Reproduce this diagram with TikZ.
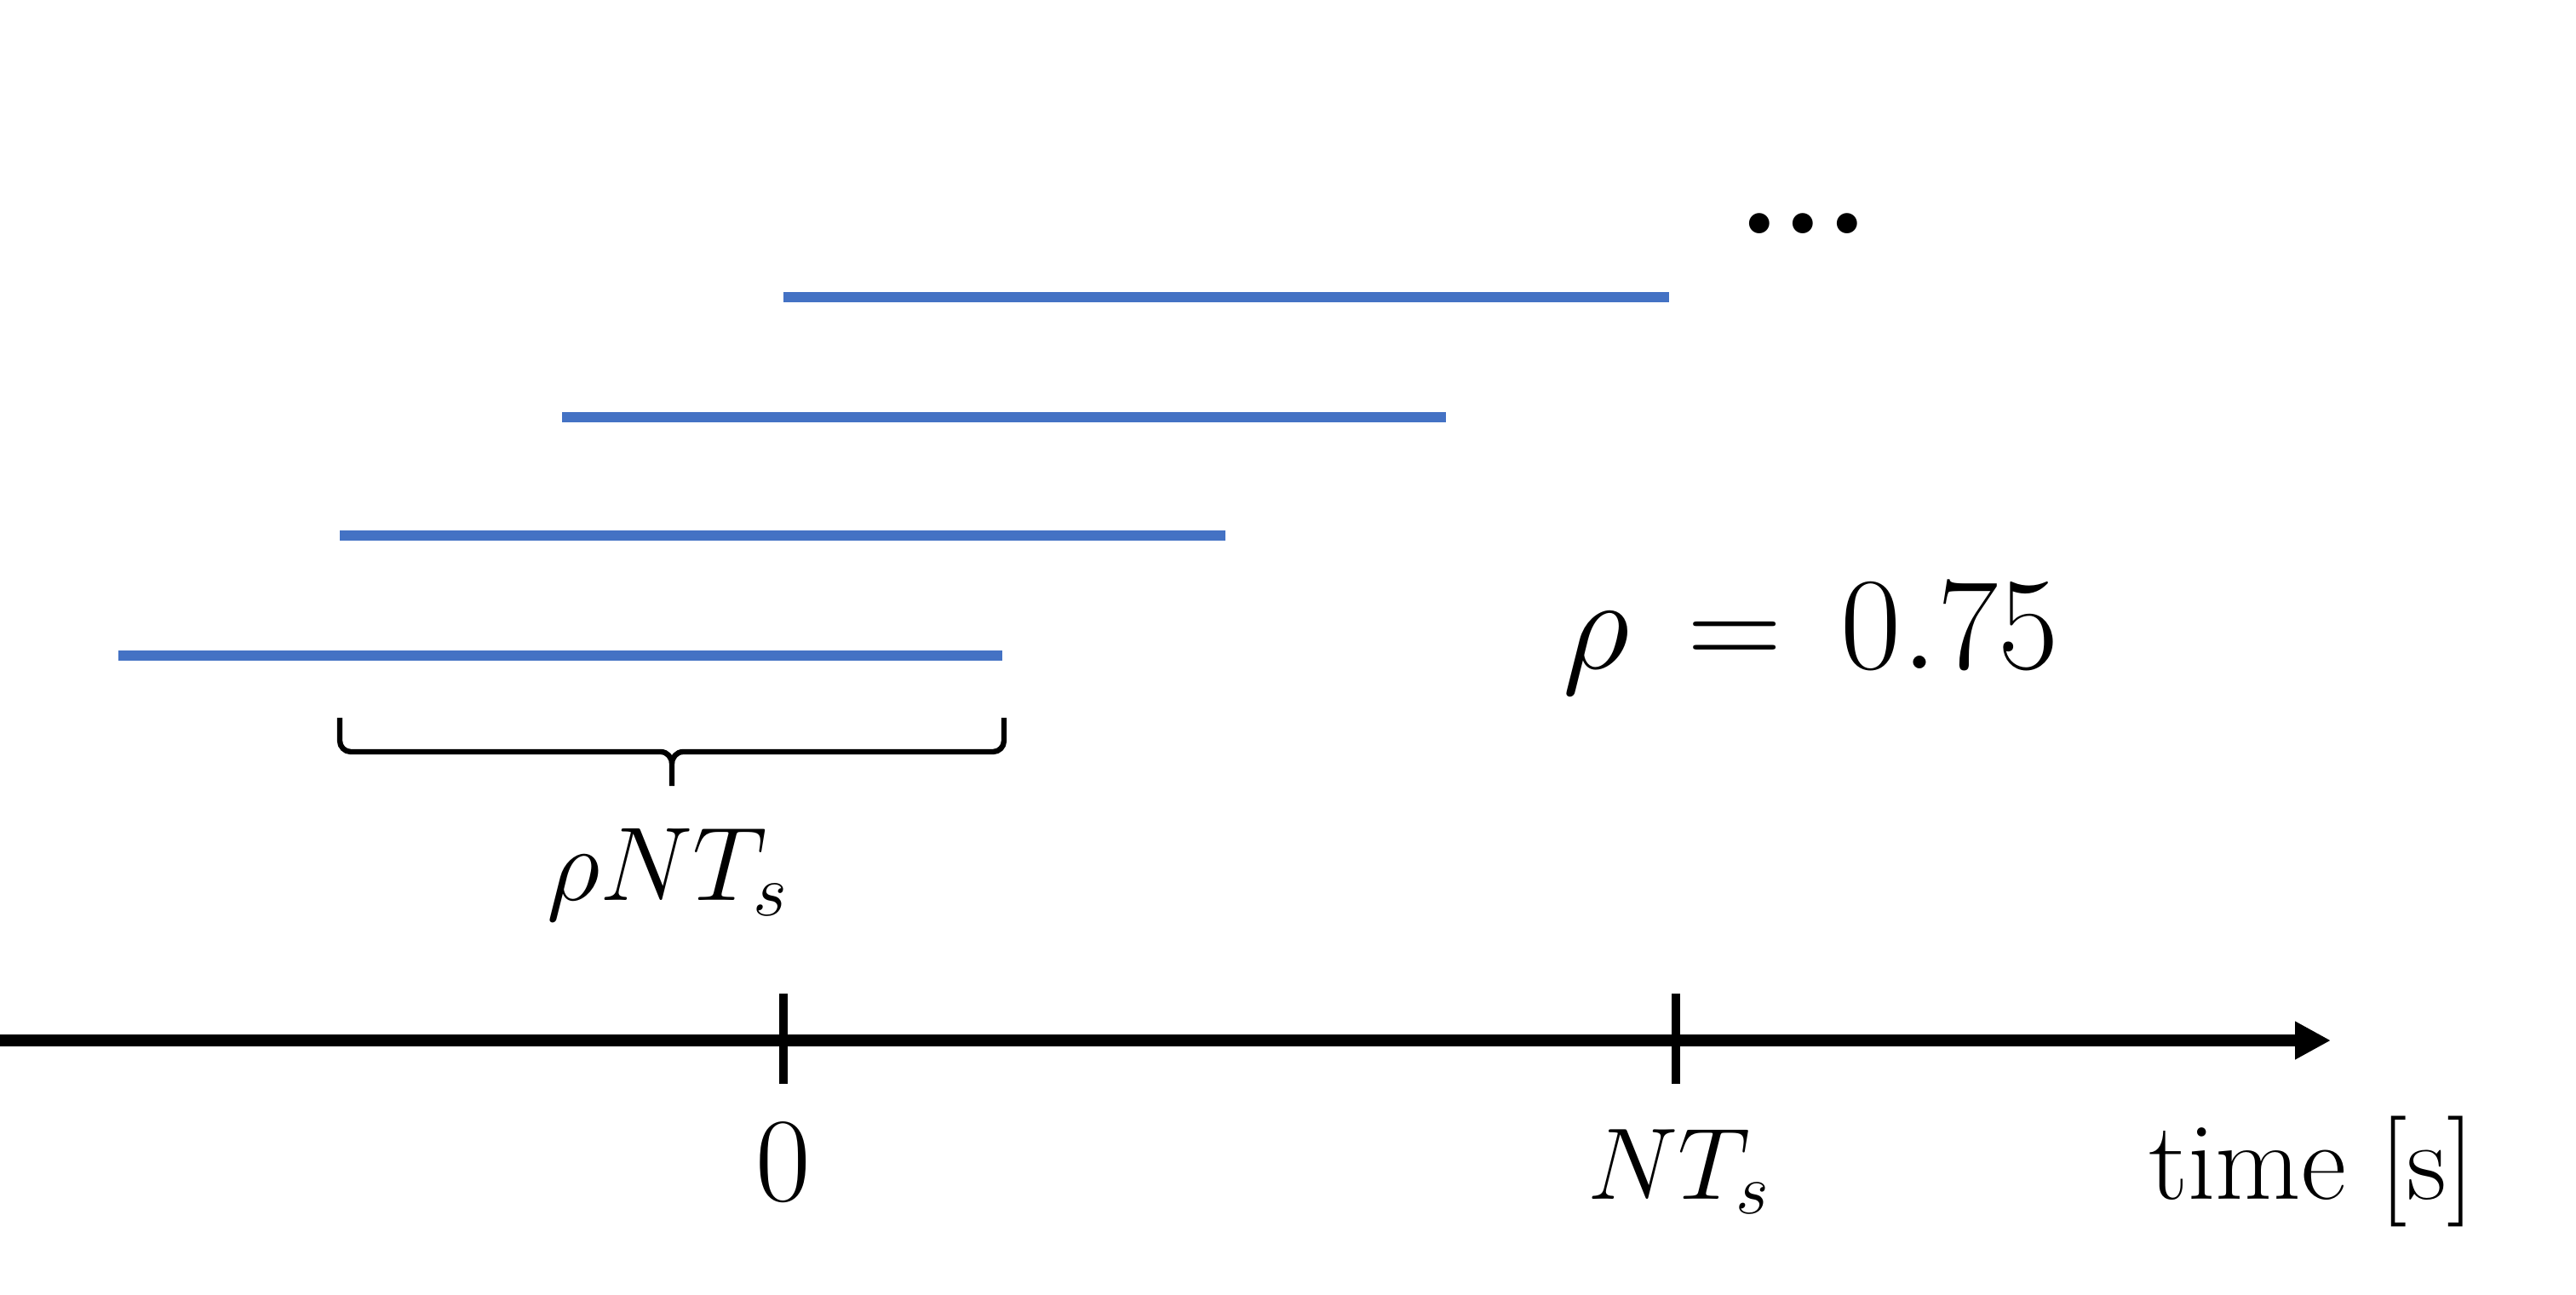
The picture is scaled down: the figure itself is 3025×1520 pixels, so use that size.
\RequirePackage{fix-cm}
\documentclass[tikz,border=0pt]{standalone}
\usetikzlibrary{arrows.meta}
\definecolor{segblue}{HTML}{4472C4}
\begin{document}
\begin{tikzpicture}[x=0.01cm,y=-0.01cm,
  seg/.style={draw=segblue,line width=3.4pt},
  axis/.style={draw=black,line width=4pt},
  tick/.style={draw=black,line width=2.8pt},
  bracestyle/.style={draw=black,line width=1.8pt,line join=round},
  lbl/.style={inner sep=0pt,outer sep=0pt,font=\fontsize{37}{44}\selectfont},
]
\useasboundingbox (0,0) rectangle (3025,1520);
% segments
\coordinate (s1a) at (139,770); \coordinate (s1b) at (1177,770);
\coordinate (s2a) at (399,629); \coordinate (s2b) at (1439,629);
\coordinate (s3a) at (660,490); \coordinate (s3b) at (1698,490);
\coordinate (s4a) at (920,349); \coordinate (s4b) at (1960,349);
\draw[seg] (s1a) -- (s1b);
\draw[seg] (s2a) -- (s2b);
\draw[seg] (s3a) -- (s3b);
\draw[seg] (s4a) -- (s4b);
% dots
\node[lbl,anchor=base west,font=\fontsize{47}{56}\selectfont\bfseries] (dots) at (2040,274) {...};
% rho label
\node[lbl,anchor=base west,font=\fontsize{44}{53}\selectfont] (rho) at (1835,785) {$\rho\,=\,0.75$};
% brace
\coordinate (bl) at (399,843);
\coordinate (br) at (1179,843);
\coordinate (bm) at (789,923);
\draw[bracestyle] (bl) -- (399,870) to[out=-90,in=180] (412,883) -- (776,883)
  to[out=0,in=90] (bm |- 0,897) -- (bm);
\draw[bracestyle] (bm |- 0,897) to[out=90,in=180] (802,883) -- (1166,883)
  to[out=0,in=-90] (1179,870) -- (br);
\node[lbl,anchor=base west,font=\fontsize{35}{42}\selectfont] (rhoNT) at (642,1057) {$\rho N T_s$};
% axis
\coordinate (axL) at (0,1222);
\coordinate (axR) at (2737,1222);
\draw[axis,-{Triangle[length=0.42cm,width=0.42cm]}] (axL) -- (axR);
\coordinate (t0a) at (920,1167); \coordinate (t0b) at (920,1273);
\coordinate (t1a) at (1968,1167); \coordinate (t1b) at (1968,1273);
\draw[tick] (t0a) -- (t0b);
\draw[tick] (t1a) -- (t1b);
\node[lbl,anchor=base,font=\fontsize{40}{48}\selectfont] (zero) at (920,1410) {$0$};
\node[lbl,anchor=base west,font=\fontsize{34}{41}\selectfont] (NTs) at (1864,1408) {$N T_s$};
\node[lbl,anchor=base west] (time) at (2523,1408) {time [s]};
\end{tikzpicture}
\end{document}
